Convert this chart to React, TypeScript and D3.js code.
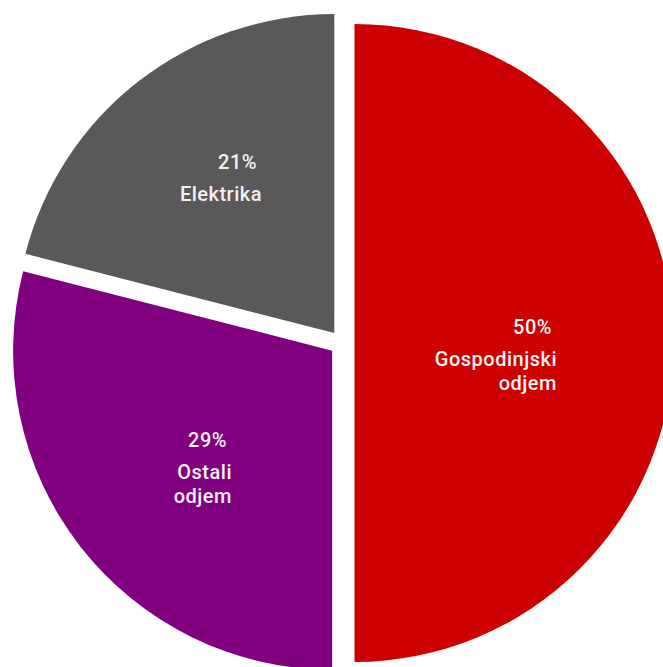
import React from "react";
import * as d3 from "d3";

const categories = ["Gospodinjski odjem", "Ostali odjem", "Elektrika"];
const values = [50, 29, 21];
const labelLines = [["Gospodinjski", "odjem"], ["Ostali", "odjem"], ["Elektrika"]];
const colors = ["#cc0000", "#800080", "#595959"];

const W = 663;
const H = 667;
const CX = 342;
const CY = 343;
const R = 319;
const EXPLODE = 12.5;
// label anchor (right edge, first baseline) relative to pie centre
const labelOffsets = [
  { dx: 215, dy: -9 },
  { dx: -110, dy: 104 },
  { dx: -80, dy: -174 },
];

export default function App() {
  const pie = d3.pie<number>().sort(null).value((d) => d);
  const arcs = pie(values);
  const arc = d3.arc<d3.PieArcDatum<number>>().innerRadius(0).outerRadius(R);
  const total = d3.sum(values);

  return (
    <svg
      width={W}
      height={H}
      style={{ position: "absolute", left: 0, top: 0, background: "#fff" }}
    >
      <g transform={`translate(${CX},${CY})`}>
        {arcs.map((a, i) => {
          const mid = (a.startAngle + a.endAngle) / 2;
          const ox = Math.sin(mid) * EXPLODE;
          const oy = -Math.cos(mid) * EXPLODE;
          return (
            <path
              key={categories[i]}
              d={arc(a) || ""}
              transform={`translate(${ox},${oy})`}
              fill={colors[i]}
            />
          );
        })}
        {arcs.map((a, i) => {
          const { dx, dy } = labelOffsets[i];
          const pct = `${Math.round((a.value / total) * 100)}%`;
          return (
            <text
              key={"l" + i}
              fill="#f3f0f0"
              fontFamily="Roboto, 'Noto Sans', sans-serif"
              fontWeight={500}
              fontSize={20}
              letterSpacing={0.5}
              textAnchor="end"
            >
              <tspan x={dx - 5} y={dy}>
                {pct}
              </tspan>
              {labelLines[i].map((l, j) => (
                <tspan key={j} x={dx} y={dy + 32 + j * 24}>
                  {l}
                </tspan>
              ))}
            </text>
          );
        })}
      </g>
    </svg>
  );
}
